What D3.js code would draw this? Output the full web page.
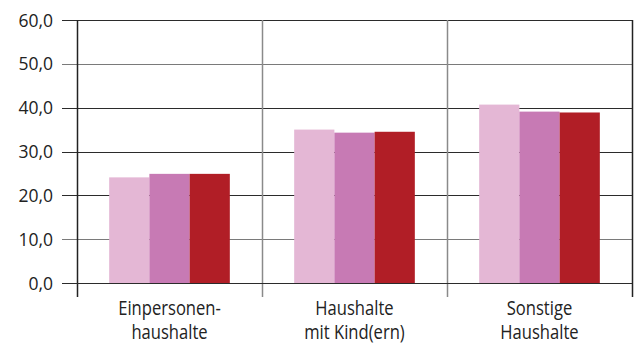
<!DOCTYPE html>
<html><head><meta charset="utf-8">
<script src="https://cdn.jsdelivr.net/npm/d3@7"></script>
<style>html,body{margin:0;padding:0;background:#fff;}svg{display:block;}</style>
</head><body>
<svg id="c" width="634" height="343"></svg>
<script>
const categories = [["Einpersonen-","haushalte"],["Haushalte","mit Kind(ern)"],["Sonstige","Haushalte"]];
const series = ["s1","s2","s3"];
const seriesColors = ["#e4b7d5","#c77ab4","#b11e26"];
const values = [
  [24.1, 24.9, 24.9],
  [35.0, 34.3, 34.5],
  [40.7, 39.1, 38.9]
];
const yTicks = [0,10,20,30,40,50,60];

const svg = d3.select("#c");
const L = 77, R = 632, T = 20, B = 283;
const catKeys = categories.map((c,i)=>i);
const x0 = d3.scaleBand().domain(catKeys).range([L,R]).padding(0);
const x1 = d3.scaleBand().domain(series).range([0,x0.bandwidth()]).paddingInner(0).paddingOuter(0.8);
const y = d3.scaleLinear().domain([0,60]).range([B,T]);
const fmt = v => d3.format(".1f")(v).replace(".",",");

// grid lines
svg.append("g").selectAll("line").data(yTicks).join("line")
  .attr("x1",62).attr("x2",R).attr("y1",d=>Math.round(y(d))+0.5).attr("y2",d=>Math.round(y(d))+0.5)
  .attr("stroke",d=> (d%20===0 || d===30)?"#2b2b2b":"#7a7a7a").attr("stroke-width",1);

// vertical separators
const seps = [L, ...catKeys.slice(1).map(k=>x0(k)), R];
svg.append("g").selectAll("line").data(seps).join("line")
  .attr("x1",d=>Math.round(d)+0.5).attr("x2",d=>Math.round(d)+0.5)
  .attr("y1",T).attr("y2",297)
  .attr("stroke",(d,i)=> (i===0||i===seps.length-1)?"#222":"#8a8a8a")
  .attr("stroke-width",1.5);

// bars
const g = svg.append("g").selectAll("g").data(values).join("g")
  .attr("transform",(d,i)=>`translate(${x0(i)},0)`);
g.selectAll("rect").data(d=>d.map((v,j)=>({v,s:series[j],j}))).join("rect")
  .attr("x",d=>x1(d.s)).attr("width",x1.bandwidth())
  .attr("y",d=>y(d.v)).attr("height",d=>y(0)-y(d.v))
  .attr("fill",d=>seriesColors[d.j]);

// baseline redraw
svg.append("line").attr("x1",62).attr("x2",R).attr("y1",Math.round(y(0))+0.5).attr("y2",Math.round(y(0))+0.5)
  .attr("stroke","#2b2b2b");

// y labels
svg.append("g").selectAll("text").data(yTicks).join("text")
  .attr("x",53).attr("y",d=>y(d)+6.5).attr("text-anchor","end")
  .attr("font-family","Open Sans").attr("font-size",17.5).attr("fill","#222")
  .text(fmt);

// category labels
const cl = svg.append("g").selectAll("text").data(categories).join("text")
  .attr("transform",(d,i)=>`translate(${x0(i)+x0.bandwidth()/2},0) scale(0.83,1)`)
  .attr("text-anchor","middle")
  .attr("font-family","Open Sans").attr("font-size",20).attr("fill","#222");
cl.selectAll("tspan").data(d=>d).join("tspan")
  .attr("x",0).attr("y",(d,i)=>315+i*24)
  .text(d=>d);
</script>
</body></html>
